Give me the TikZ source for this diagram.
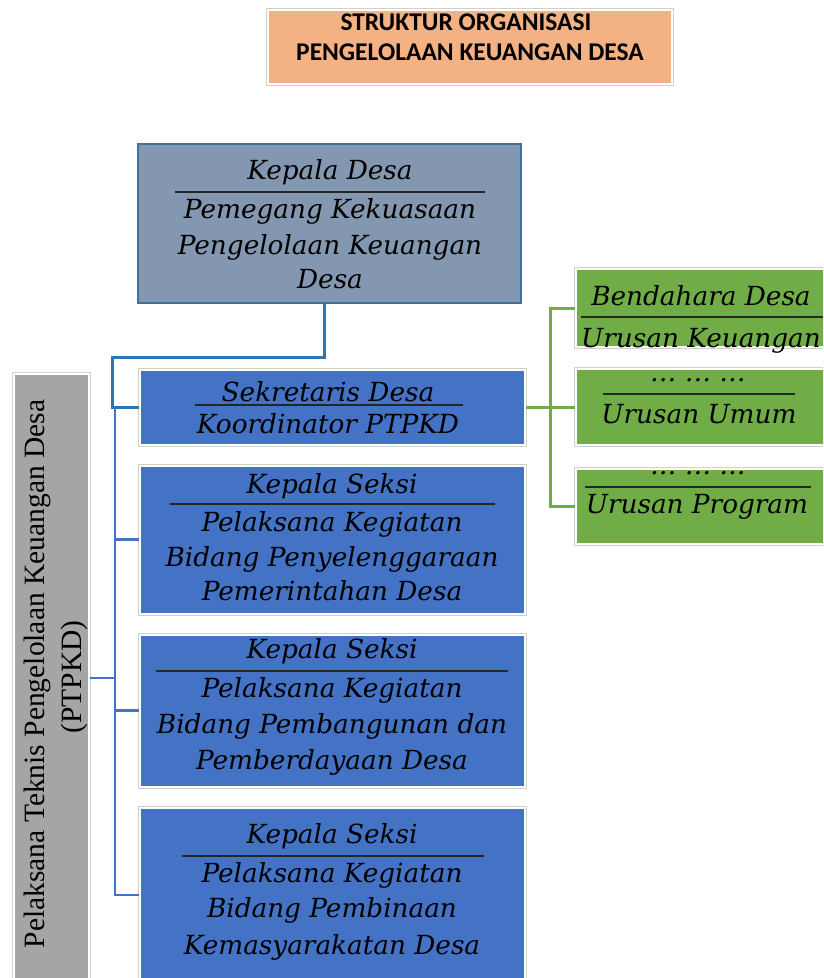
\documentclass[tikz,border=0pt]{standalone}
\usepackage{fontspec}
\setmainfont{Liberation Serif}
\newfontfamily\boxfont{DejaVu Serif}
\newfontfamily\headfont{Carlito}
\usepackage{tikz}
\definecolor{kdfill}{HTML}{8497B0}
\definecolor{kdline}{HTML}{41719C}
\definecolor{bluebox}{HTML}{4472C4}
\definecolor{greenbox}{HTML}{70AD47}
\definecolor{graybox}{HTML}{A5A5A5}
\definecolor{headfill}{HTML}{F4B183}
\definecolor{boxrim}{HTML}{D0D0D0}
\definecolor{kdlink}{HTML}{2E75B6}
\tikzset{boxframe/.style={draw=white, line width=2pt, inner sep=0pt,
    preaction={draw=boxrim, line width=4pt}}}
\tikzset{unit/.style={boxframe, fill=bluebox, minimum width=385pt}}
\tikzset{urusan/.style={boxframe, fill=greenbox, minimum width=254pt}}
\tikzset{txt/.style={anchor=base, inner sep=0pt,
    font=\boxfont\itshape\fontsize{26.3}{31}\selectfont}}
\tikzset{headtxt/.style={anchor=base, inner sep=0pt,
    font=\headfont\bfseries\fontsize{25.5}{31}\selectfont}}
\tikzset{divline/.style={line width=1.5pt, black!85}}
\tikzset{ptlink/.style={draw=bluebox, line width=2.6pt}}
\tikzset{glink/.style={draw=greenbox, line width=3pt}}

\begin{document}
\begin{tikzpicture}[x=1pt, y=-1pt]
  \clip (0,0) rectangle (823,978);
  %%%%% judul
  \node[boxframe, fill=headfill, minimum width=404pt, minimum height=74pt] (judul) at (470,47) {};
  \node[headtxt] (judul1) at (466,30) {STRUKTUR ORGANISASI};
  \node[headtxt] (judul2) at (470,60) {PENGELOLAAN KEUANGAN DESA};

  %%%%% kepala desa
  \node[draw=kdline, line width=2.5pt, fill=kdfill, inner sep=0pt,
    minimum width=383pt, minimum height=159pt] (kades) at (329.5,223.5) {};
  \node[txt] (kades1) at (330,179) {Kepala Desa};
  \draw[divline] (175,192) -- (485,192);
  \node[txt] (kades2) at (330,218) {Pemegang Kekuasaan};
  \node[txt] (kades3) at (330,254) {Pengelolaan Keuangan};
  \node[txt] (kades4) at (330,288) {Desa};

  %%%%% sekretaris desa
  \node[unit, minimum height=75pt] (sekdes) at (332,407) {};
  \node[txt] (sekdes1) at (328,401) {Sekretaris Desa};
  \draw[divline] (195,405) -- (463,405);
  \node[txt] (sekdes2) at (328,433) {Koordinator PTPKD};

  %%%%% kepala seksi
  \node[unit, minimum height=148pt] (kasi1) at (332,539.5) {};
  \node[txt] (kasi11) at (332,493) {Kepala Seksi};
  \draw[divline] (170,504) -- (495,504);
  \node[txt] (kasi12) at (332,531) {Pelaksana Kegiatan};
  \node[txt] (kasi13) at (332,566) {Bidang Penyelenggaraan};
  \node[txt] (kasi14) at (332,600) {Pemerintahan Desa};

  \node[unit, minimum height=152pt] (kasi2) at (332,710.5) {};
  \node[txt] (kasi21) at (332,658) {Kepala Seksi};
  \draw[divline] (156,671) -- (508,671);
  \node[txt] (kasi22) at (332,697) {Pelaksana Kegiatan};
  \node[txt] (kasi23) at (332,733) {Bidang Pembangunan dan};
  \node[txt] (kasi24) at (332,769) {Pemberdayaan Desa};

  \node[unit, minimum height=174pt] (kasi3) at (332,895) {};
  \node[txt] (kasi31) at (332,843) {Kepala Seksi};
  \draw[divline] (182,856) -- (484,856);
  \node[txt] (kasi32) at (332,882) {Pelaksana Kegiatan};
  \node[txt] (kasi33) at (332,917) {Bidang Pembinaan};
  \node[txt] (kasi34) at (332,954) {Kemasyarakatan Desa};

  %%%%% ptpkd
  \node[boxframe, fill=graybox, minimum width=75pt, minimum height=608pt] (ptpkd) at (51,678) {};
  \node[anchor=base, rotate=90, inner sep=0pt, font=\fontsize{29.5}{35}\selectfont]
    (ptpkd1) at (45,674) {Pelaksana Teknis Pengelolaan Keuangan Desa};
  \node[anchor=base, rotate=90, inner sep=0pt, font=\fontsize{29.5}{35}\selectfont]
    (ptpkd2) at (81,677) {(PTPKD)};

  %%%%% urusan
  \node[urusan, minimum height=78pt] (bendahara) at (703,308) {};
  \node[txt] (bendahara1) at (701,305) {Bendahara Desa};
  \draw[divline] (581,317) -- (823,317);
  \node[txt] (bendahara2) at (701,347) {Urusan Keuangan};

  \node[urusan, minimum height=76pt] (umum) at (703,407) {};
  \node[txt] (umum1) at (698,381) {\dots\ \dots\ \dots};
  \draw[divline] (603,394) -- (795,394);
  \node[txt] (umum2) at (699,423) {Urusan Umum};

  \node[urusan, minimum height=75pt] (program) at (703,506) {};
  \node[txt] (program1) at (698,474) {\dots\ \dots\ \dots};
  \draw[divline] (585,487) -- (811,487);
  \node[txt] (program2) at (697,513) {Urusan Program};

  %%%%% garis
  \coordinate (kdturn) at (112,357);
  \draw[draw=kdlink, line width=3pt] ([xshift=-5.5pt]kades.south) |- (kdturn) |- (sekdes.west);
  \coordinate (pttop) at (115,407);
  \draw[ptlink] (pttop) |- (kasi3.west);
  \draw[ptlink] (pttop |- kasi1.west) -- (kasi1.west);
  \draw[ptlink] (pttop |- kasi2.west) -- (kasi2.west);
  \draw[ptlink] (ptpkd.east) -- (pttop |- ptpkd.east);
  \coordinate (gjoint) at (550,407);
  \draw[glink] (sekdes.east) -- (umum.west);
  \draw[glink] (bendahara.west) -| (gjoint) |- (program.west);
\end{tikzpicture}
\end{document}
